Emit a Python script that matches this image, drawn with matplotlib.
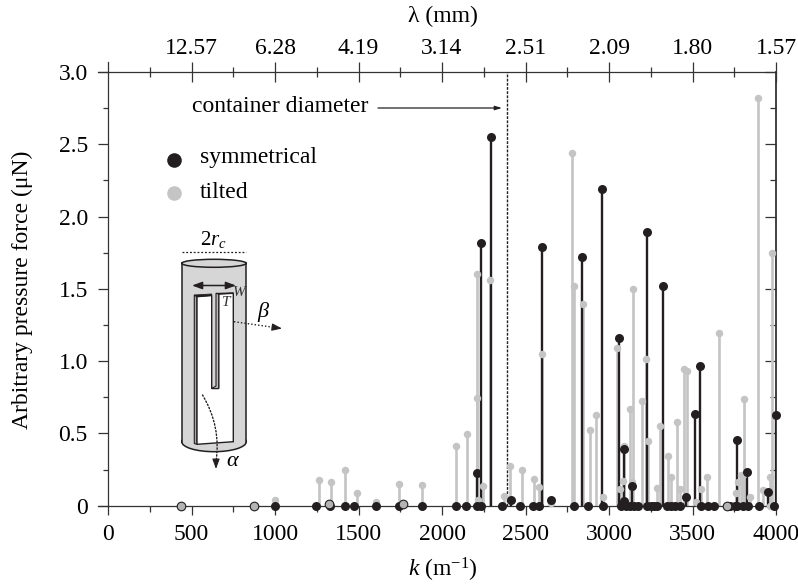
import matplotlib
matplotlib.use("Agg")
import matplotlib.pyplot as plt
from matplotlib.patches import Ellipse, Polygon, Rectangle, FancyArrowPatch

plt.rcParams["font.family"] = ["Liberation Serif", "DejaVu Serif"]
plt.rcParams["mathtext.fontset"] = "custom"
plt.rcParams["mathtext.rm"] = "Liberation Serif"
plt.rcParams["mathtext.it"] = "Liberation Serif:italic"

DARK = "#231f20"
GRAY = "#c4c4c4"
FS = 17

# peaks
sym_k = [2208, 2232, 2295, 2413, 2597, 2651, 2840, 2960, 3060, 3088, 3090, 3138,
         3230, 3321, 3463, 3515, 3545, 3769, 3825, 3955, 3998]
sym_v = [0.226, 1.82, 2.55, 0.04, 1.79, 0.04, 1.72, 2.19, 1.16, 0.03, 0.39, 0.134,
         1.89, 1.52, 0.06, 0.636, 0.965, 0.456, 0.23, 0.097, 0.627]
# black dots sitting on the axis
base_k = [1000, 1247, 1329, 1419, 1473, 1605, 1743, 1880, 2082, 2142, 2208, 2232,
          2361, 2469, 2545, 2583, 2790, 2874, 2966, 3074, 3100, 3126, 3150, 3174,
          3230, 3253, 3270, 3285, 3345, 3369, 3395, 3425, 3549, 3591, 3629, 3725,
          3755, 3769, 3805, 3832, 3900, 3988]

tilt_k = [1000, 1264, 1338, 1421, 1490, 1605, 1745, 1883, 2082, 2147, 2207, 2207,
          2216, 2246, 2289, 2373, 2409, 2479, 2551, 2581, 2597, 2651, 2778, 2792,
          2842, 2884, 2920, 2966, 3046, 3068, 3086, 3090, 3128, 3136, 3146, 3195,
          3219, 3235, 3289, 3305, 3353, 3363, 3373, 3407, 3425, 3447, 3467, 3519,
          3549, 3589, 3659, 3760, 3770, 3792, 3805, 3811, 3846, 3894, 3922, 3962,
          3964, 3978]
tilt_v = [0.04, 0.18, 0.164, 0.25, 0.085, 0.025, 0.148, 0.143, 0.415, 0.494, 1.6, 0.745,
          0.04, 0.136, 1.563, 0.067, 0.275, 0.245, 0.183, 0.127, 1.05, 0.016, 2.437, 1.517,
          1.393, 0.523, 0.625, 0.058, 1.093, 0.113, 0.168, 0.413, 0.67, 0.164, 1.5, 0.726,
          1.012, 0.445, 0.125, 0.549, 0.342, 0.012, 0.198, 0.581, 0.115, 0.943, 0.934, 0.026,
          0.113, 0.196, 1.197, 0.085, 0.166, 0.212, 0.212, 0.736, 0.062, 2.82, 0.111, 0.196,
          0.0, 1.745]
# gray dots with a dark ring
ring_k = [439, 874, 1322, 1768, 3707]
ring_v = [0.0, 0.0, 0.01, 0.015, 0.0]

top_ticks = [500, 1000, 1500, 2000, 2500, 3000, 3500, 4000]
top_labels = ["12.57", "6.28", "4.19", "3.14", "2.51", "2.09", "1.80", "1.57"]
minor_x = [250, 750, 1250, 1750, 2250, 2750, 3250, 3750]
y_ticks = [0, 0.5, 1.0, 1.5, 2.0, 2.5, 3.0]
minor_y = [0.25, 0.75, 1.25, 1.75, 2.25, 2.75]
container_k = 2387

W, H = 798, 588
fig = plt.figure(figsize=(W / 100, H / 100), dpi=100)
ax = fig.add_axes([108 / W, 1 - 505.7 / H, 668 / W, 433.7 / H])
ax.set_xlim(0, 4000)
ax.set_ylim(0, 3)
ax.patch.set_alpha(0)

# stems
ax.vlines(tilt_k, 0, tilt_v, color=GRAY, lw=1.9, zorder=2)
ax.vlines(sym_k, 0, sym_v, color=DARK, lw=1.7, zorder=3)
ax.axvline(container_k, color=DARK, lw=1.0, ls=(0, (2, 1)), zorder=3)
# markers
ax.plot(tilt_k, tilt_v, "o", color=GRAY, ms=5.4, mew=0, clip_on=False, zorder=4)
ax.plot(base_k, [0] * len(base_k), "o", color=DARK, ms=6.5, mew=0, clip_on=False, zorder=5)
ax.plot(sym_k, sym_v, "o", color=DARK, ms=6.5, mew=0, clip_on=False, zorder=5)
ax.plot(ring_k, ring_v, "o", mfc="#b4b4b4", mec=DARK, ms=6.2, mew=0.8, clip_on=False, zorder=6)

for s in ax.spines.values():
    s.set_linewidth(0.9)
    s.set_color("#333333")
ax.spines["top"].set_visible(False)
ax.spines["right"].set_visible(False)

ax.set_xticks(range(0, 4001, 500))
ax.set_xticks(minor_x, minor=True)
ax.set_yticks(y_ticks)
ax.set_yticklabels(["0", "0.5", "1.0", "1.5", "2.0", "2.5", "3.0"])
ax.set_yticks(minor_y, minor=True)
ax.tick_params(axis="both", which="major", labelsize=FS, width=0.9, color="#333333")
ax.tick_params(axis="x", which="major", length=6.5, pad=7)
ax.tick_params(axis="x", which="minor", length=4, width=0.9, color="#333333")
ax.tick_params(axis="y", which="major", length=7.5, pad=7)
ax.tick_params(axis="y", which="minor", length=3.8, width=0.9, color="#333333")

top = ax.secondary_xaxis("top")
top.set_xticks(top_ticks)
top.set_xticklabels(top_labels)
top.set_xticks(minor_x, minor=True)
top.tick_params(which="major", direction="inout", length=14.5, width=0.9, labelsize=FS, pad=2, color="#333333")
top.tick_params(which="minor", direction="inout", length=7.2, width=0.9, color="#333333")
top.spines["top"].set_linewidth(0.9)
top.spines["top"].set_color("#333333")

right = ax.secondary_yaxis("right")
right.set_yticks(y_ticks)
right.set_yticklabels([])
right.set_yticks(minor_y, minor=True)
right.tick_params(which="major", direction="in", length=8, width=0.9, color="#333333")
right.tick_params(which="minor", direction="in", length=4, width=0.9, color="#333333")
right.spines["right"].set_linewidth(1.3)
right.spines["right"].set_color("#333333")

# overlay in pixel coordinates for the annotations and the sketch
ov = fig.add_axes([0, 0, 1, 1], zorder=10)
ov.set_xlim(0, W)
ov.set_ylim(H, 0)
ov.axis("off")

# axis extensions past the corner
ov.plot([98, 108], [72, 72], color="#333333", lw=0.9)
ov.plot([108, 108], [62, 72], color="#333333", lw=0.9)
ov.plot([98, 108], [505.7, 505.7], color="#333333", lw=0.9)

ov.text(443, 16, "λ (mm)", fontsize=FS, ha="center", va="center")
ov.text(443, 570, r"$\mathit{k}$ (m$^{\mathrm{-1}}$)", fontsize=FS, ha="center", va="center")
ov.text(22, 290, "Arbitrary pressure force (μN)", fontsize=FS, rotation=90, ha="center", va="center")

ov.text(192, 107, "container diameter", fontsize=FS, ha="left", va="center")
ov.annotate("", xy=(502, 108), xytext=(378, 108),
            arrowprops=dict(arrowstyle="-|>,head_width=0.12,head_length=0.4", color=DARK, lw=0.9, shrinkA=0, shrinkB=0))

# legend
ov.plot([174], [160], "o", color=DARK, ms=10.5, mew=0)
ov.plot([174], [193], "o", color=GRAY, ms=10.5, mew=0)
ov.text(200, 157, "symmetrical", fontsize=FS, ha="left", va="center")
ov.text(200, 192, "tilted", fontsize=FS, ha="left", va="center")

# cylinder sketch
CYL = "#d6d6d6"
ov.add_patch(Ellipse((214, 441.7), 64.6, 20, fc=CYL, ec=DARK, lw=1.1, zorder=1))
ov.add_patch(Rectangle((181.7, 263.3), 64.6, 178.4, fc=CYL, ec="none", zorder=1))
ov.plot([181.7, 181.7], [263.3, 441.7], color=DARK, lw=1.1, zorder=2)
ov.plot([246.3, 246.3], [263.3, 441.7], color=DARK, lw=1.1, zorder=2)
ov.add_patch(Ellipse((214, 263.3), 64.6, 8, fc=CYL, ec=DARK, lw=1.1, zorder=2))
ov.plot([181.7, 246.3], [251.7, 251.7], color=DARK, lw=0.9, ls=(0, (1.5, 1.5)))
# plate
ov.add_patch(Polygon([(194.3, 295), (197, 296.7), (197, 444.3), (194.3, 443.5)], fc="#aaaaaa", ec=DARK, lw=0.8, zorder=3))
ov.add_patch(Polygon([(197, 296.7), (211.7, 295.5), (211.7, 388.5), (218.7, 388.5), (218.7, 294), (233.3, 293.3),
                      (233.3, 441.7), (197, 444.3)], fc="w", ec=DARK, lw=1.0, zorder=3))
ov.add_patch(Polygon([(216, 293.3), (218.7, 294), (218.7, 388.5), (211.7, 388.5), (216, 386)], fc="#bbbbbb", ec=DARK, lw=0.8, zorder=4))
ov.add_patch(Polygon([(194.3, 295), (197, 296.7), (211.7, 295.5), (211.7, 294)], fc=DARK, ec=DARK, lw=0.6, zorder=4))
ov.add_patch(Polygon([(216, 293.3), (218.7, 294), (233.3, 293.3), (233.3, 292.8)], fc=DARK, ec=DARK, lw=0.6, zorder=4))

HEAD = dict(arrowstyle="-|>,head_width=0.22,head_length=0.6", color=DARK, lw=0.8, shrinkA=0, shrinkB=0)
ov.annotate("", xy=(236, 285.5), xytext=(192, 285.5), zorder=5,
            arrowprops=dict(arrowstyle="<|-|>,head_width=0.22,head_length=0.6", color=DARK, lw=1.1, shrinkA=0, shrinkB=0))
# dotted arrows: dotted body, solid head
ov.plot([234, 275], [321.7, 327.5], color=DARK, lw=1.0, ls=(0, (1, 1.5)), zorder=5)
ov.annotate("", xy=(282, 328.5), xytext=(274, 327.4), arrowprops=HEAD, zorder=5)
ov.add_patch(FancyArrowPatch((202.5, 395), (216, 462), connectionstyle="arc3,rad=-0.18", arrowstyle="-", color=DARK,
                             lw=1.0, ls=(0, (1, 1.5)), shrinkA=0, shrinkB=0, zorder=5))
ov.annotate("", xy=(216, 469), xytext=(216, 460), arrowprops=HEAD, zorder=5)

ov.text(213, 240, r"$\mathit{2r_c}$", fontsize=15, ha="center", va="center")
ov.text(239, 292, "W", fontsize=11, style="italic", ha="center", va="center", color="#333333", zorder=6)
ov.text(226, 303, "T", fontsize=11, style="italic", ha="center", va="center", color="#333333", zorder=6)
ov.text(263, 312, "β", fontsize=16, style="italic", ha="center", va="center", zorder=6)
ov.text(232, 461, "α", fontsize=16, style="italic", ha="center", va="center", zorder=6)

fig.savefig("out.png", dpi=100)
plt.close("all")
